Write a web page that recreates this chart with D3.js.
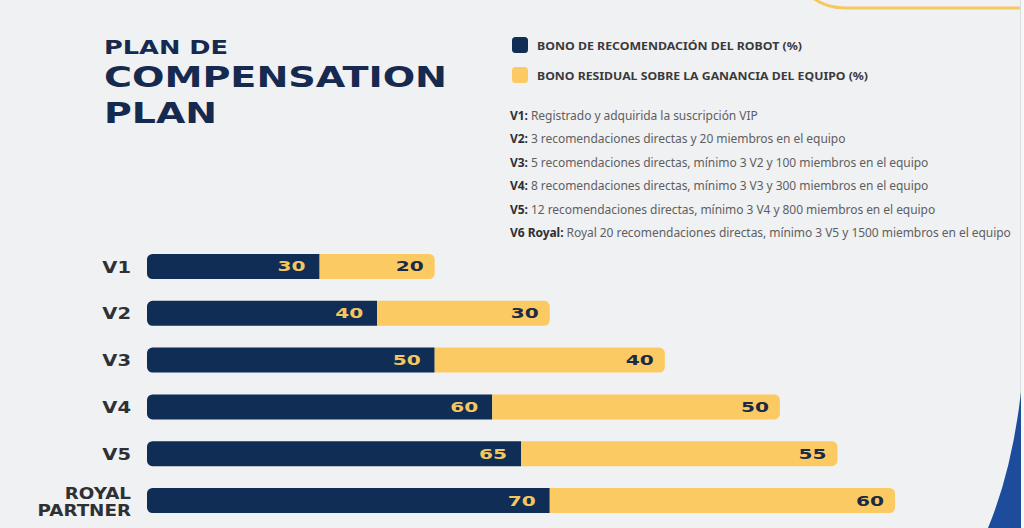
<!DOCTYPE html>
<html>
<head>
<meta charset="utf-8">
<script src="https://cdn.jsdelivr.net/npm/d3@7"></script>
<style>
  html, body { margin: 0; padding: 0; background: #f0f1f2; }
  svg { display: block; }
</style>
</head>
<body>
<svg id="chart" width="1024" height="528"></svg>
<script>
// ---- data ----
const levels = ["V1", "V2", "V3", "V4", "V5", "ROYAL PARTNER"];
const robotBonus = [30, 40, 50, 60, 65, 70];
const residualBonus = [20, 30, 40, 50, 55, 60];
const seriesKeys = ["robot", "residual"];
const legendLabels = [
  "BONO DE RECOMENDACIÓN DEL ROBOT (%)",
  "BONO RESIDUAL SOBRE LA GANANCIA DEL EQUIPO (%)"
];
const noteKeys = ["V1:", "V2:", "V3:", "V4:", "V5:", "V6 Royal:"];
const noteTexts = [
  "Registrado y adquirida la suscripción VIP",
  "3 recomendaciones directas y 20 miembros en el equipo",
  "5 recomendaciones directas, mínimo 3 V2 y 100 miembros en el equipo",
  "8 recomendaciones directas, mínimo 3 V3 y 300 miembros en el equipo",
  "12 recomendaciones directas, mínimo 3 V4 y 800 miembros en el equipo",
  "Royal 20 recomendaciones directas, mínimo 3 V5 y 1500 miembros en el equipo"
];
const titleLines = ["PLAN DE", "COMPENSATION", "PLAN"];

// ---- style ----
const NAVY = "#0f2d55";
const YELLOW = "#fcca62";
const TITLE = "#16294f";
const svg = d3.select("#chart");

svg.append("rect").attr("width", 1024).attr("height", 528).attr("fill", "#f0f1f2");

// decorations
svg.append("path")
  .attr("d", "M813,-2 Q826,8 846,8 L1021,8")
  .attr("fill", "none").attr("stroke", "#f6c860").attr("stroke-width", 3);
svg.append("rect").attr("x", 1020).attr("y", 0).attr("width", 4).attr("height", 528).attr("fill", "#f6f7f7");
svg.append("line").attr("x1", 1020.5).attr("x2", 1020.5).attr("y1", 0).attr("y2", 528)
  .attr("stroke", "#dadbdc").attr("stroke-width", 1);
svg.append("path")
  .attr("d", "M1021,392 Q1012,470 988,528 L1021,528 Z")
  .attr("fill", "#1d4c9c");

// title
const titleSpec = [
  { y: 54, size: 19, len: 124 },
  { y: 87, size: 27.5, len: 343 },
  { y: 123, size: 27.5, len: 113 }
];
svg.append("g").selectAll("text").data(titleLines).join("text")
  .attr("x", 104)
  .attr("y", (d, i) => titleSpec[i].y)
  .attr("font-family", "DejaVu Sans")
  .attr("font-weight", "bold")
  .attr("font-size", (d, i) => titleSpec[i].size)
  .attr("textLength", (d, i) => titleSpec[i].len)
  .attr("lengthAdjust", "spacingAndGlyphs")
  .attr("fill", TITLE)
  .text(d => d);

// legend
const colour = d3.scaleOrdinal().domain(seriesKeys).range([NAVY, YELLOW]);
const legendLen = [265, 331];
const leg = svg.append("g").selectAll("g").data(seriesKeys).join("g")
  .attr("transform", (d, i) => `translate(512,${37 + i * 30})`);
leg.append("rect").attr("width", 16).attr("height", 16).attr("rx", 3.5)
  .attr("fill", d => colour(d));
leg.append("text")
  .attr("x", 25).attr("y", 12.5)
  .attr("font-family", "Noto Sans").attr("font-weight", "bold").attr("font-size", 11)
  .attr("fill", "#3a3a3c")
  .attr("textLength", (d, i) => legendLen[i])
  .attr("lengthAdjust", "spacingAndGlyphs")
  .text((d, i) => legendLabels[i]);

// notes
const notes = svg.append("g").selectAll("text").data(noteKeys).join("text")
  .attr("x", 510)
  .attr("y", (d, i) => 120 + i * 23.4)
  .attr("font-family", "Noto Sans").attr("font-size", 12)
  .attr("letter-spacing", -0.05)
  .attr("fill", "#5e5f62");
notes.append("tspan").attr("font-weight", "bold").attr("fill", "#2e2f33").text(d => d);
notes.append("tspan").text((d, i) => " " + noteTexts[i]);

// bars
const rows = levels.map((l, i) => ({ level: l, robot: robotBonus[i], residual: residualBonus[i] }));
const stacked = d3.stack().keys(seriesKeys)(rows);

const x = d3.scaleLinear().domain([0, 130]).range([147, 895]);
const y = d3.scaleBand().domain(levels).range([254, 513]).paddingInner(0.466).paddingOuter(0);
const r = 5.5;
const h = y.bandwidth();

function barPath(x0, x1, y0, roundLeft, roundRight) {
  const p = d3.path();
  const rl = roundLeft ? r : 0, rr = roundRight ? r : 0;
  p.moveTo(x0 + rl, y0);
  p.lineTo(x1 - rr, y0);
  if (rr) p.arcTo(x1, y0, x1, y0 + rr, rr);
  p.lineTo(x1, y0 + h - rr);
  if (rr) p.arcTo(x1, y0 + h, x1 - rr, y0 + h, rr);
  p.lineTo(x0 + rl, y0 + h);
  if (rl) p.arcTo(x0, y0 + h, x0, y0 + h - rl, rl);
  p.lineTo(x0, y0 + rl);
  if (rl) p.arcTo(x0, y0, x0 + rl, y0, rl);
  p.closePath();
  return p.toString();
}

const layers = svg.append("g").selectAll("g").data(stacked).join("g")
  .attr("fill", d => colour(d.key));
layers.selectAll("path").data(d => d.map(s => ({ s, key: d.key }))).join("path")
  .attr("d", d => barPath(x(d.s[0]), x(d.s[1]), y(d.s.data.level), d.key === "robot", d.key === "residual"));

// value labels
const labelG = svg.append("g");
stacked.forEach(layer => {
  labelG.selectAll(null).data(layer).join("text")
    .attr("x", d => x(d[1]) - (layer.key === "robot" ? 14 : 11))
    .attr("y", d => y(d.data.level) + h / 2 + 5)
    .attr("text-anchor", "end")
    .attr("font-family", "DejaVu Sans").attr("font-weight", "bold").attr("font-size", 14)
    .attr("textLength", 28).attr("lengthAdjust", "spacingAndGlyphs")
    .attr("fill", layer.key === "robot" ? "#f4c65e" : "#1b2b45")
    .text(d => d.data[layer.key]);
});

// category labels
const catG = svg.append("g").selectAll("text").data(levels).join("text")
  .attr("transform", d => `translate(131,${y(d) + h / 2}) scale(1.22,1)`)
  .attr("text-anchor", "end")
  .attr("font-family", "DejaVu Sans").attr("font-weight", "bold")
  .attr("fill", "#2f3033");
catG.each(function(d) {
  const words = d.split(" ");
  const t = d3.select(this);
  if (words.length === 1) {
    t.attr("font-size", 16).append("tspan").attr("x", 0).attr("y", 6).text(d);
  } else {
    t.attr("font-size", 15);
    words.forEach((w, i) => t.append("tspan").attr("x", 0).attr("y", -1.5 + i * 17).text(w));
  }
});
</script>
</body>
</html>
